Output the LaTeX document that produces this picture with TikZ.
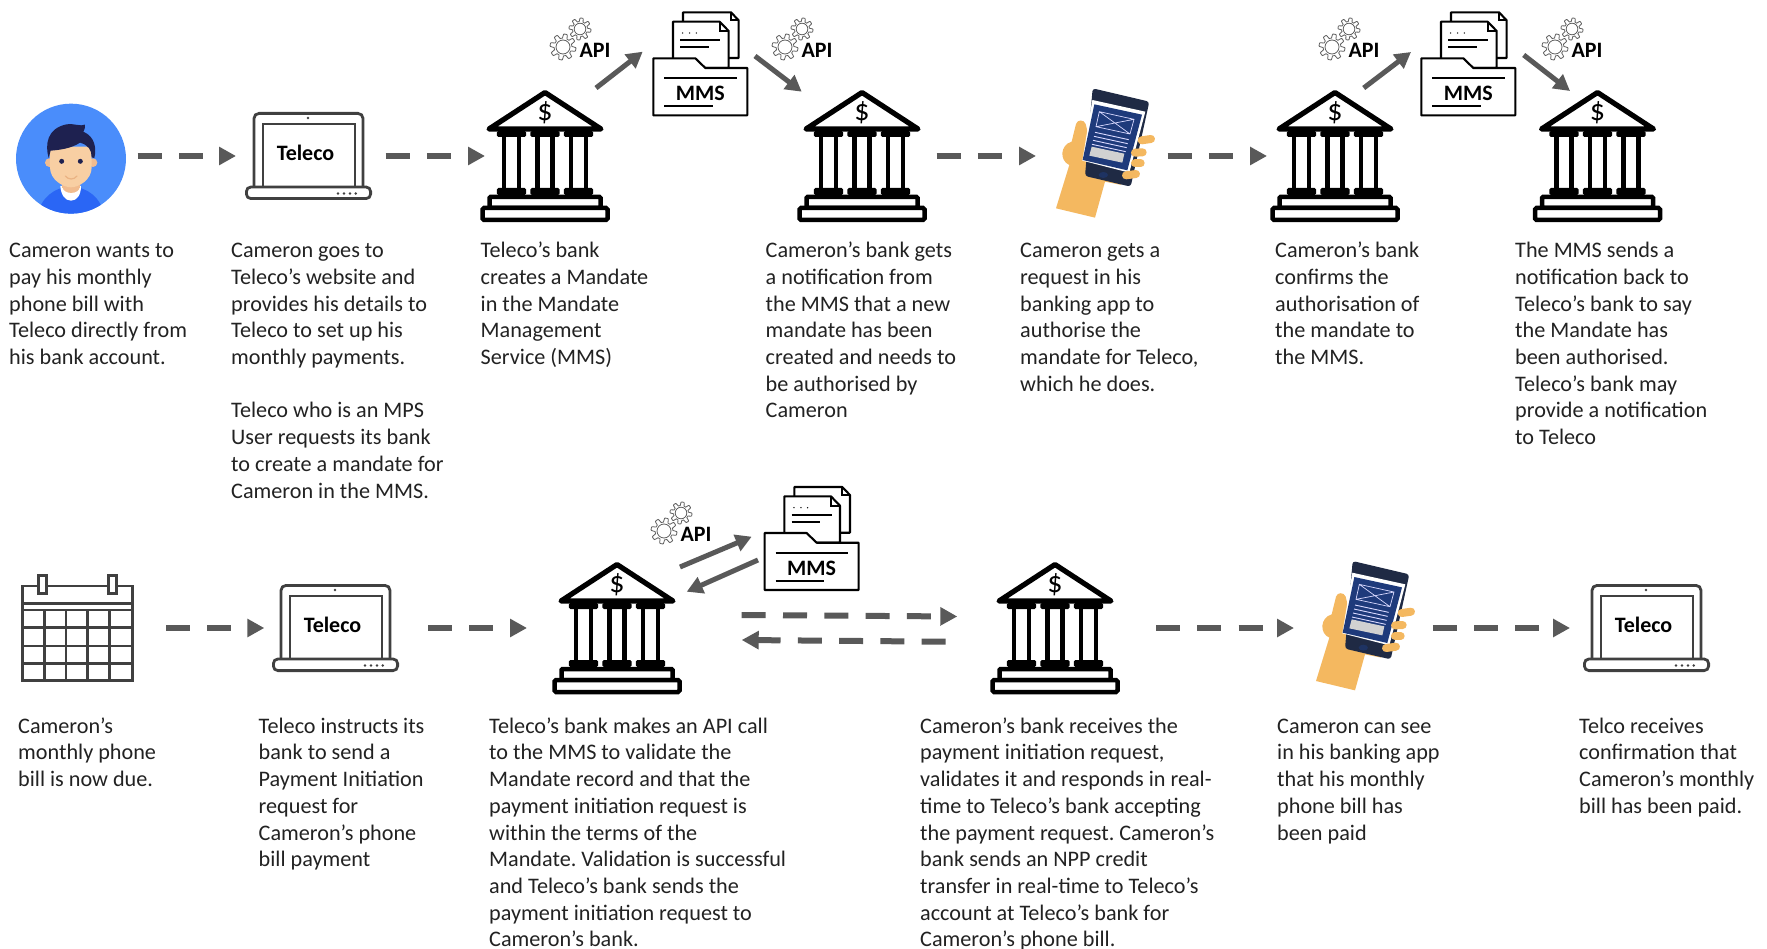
\documentclass[tikz,border=0pt]{standalone}
\usepackage{fontspec}
\setmainfont{Carlito}
\usetikzlibrary{arrows.meta}
\definecolor{arrowgrey}{HTML}{595959}
\definecolor{icongrey}{HTML}{404040}
\definecolor{gearedge}{HTML}{5F5F5F}
\definecolor{txt}{HTML}{222222}
\definecolor{skyblue}{HTML}{4A8DFB}
\definecolor{shirtblue}{HTML}{2A66F5}
\definecolor{skin}{HTML}{F8CFA3}
\definecolor{skindark}{HTML}{F1BC8F}
\definecolor{navy}{HTML}{1E2150}
\definecolor{handc}{HTML}{F4B860}
\definecolor{phonebody}{HTML}{1F2A44}
\definecolor{phonescreen}{HTML}{1E3A7B}
\tikzset{
  para/.style={anchor=north west,inner sep=0pt,align=left,text=txt,font=\frenchspacing\fontsize{22.2}{26.7}\selectfont},
  dasharr/.style={line width=6pt,draw=arrowgrey,dash pattern=on 24pt off 17.3pt,-{Triangle[length=17pt,width=17.5pt,fill=arrowgrey]}},
  solidarr/.style={line width=5pt,draw=arrowgrey,-{Triangle[length=16pt,width=17pt,fill=arrowgrey]}},
  iconlabel/.style={inner sep=0pt,text=black,font=\fontsize{22}{24}\selectfont\bfseries},
  bank/.pic={
    \draw[line width=5.2pt,line join=round,fill=white] (0,2.5)--(-56,39)--(56,39)--cycle;
    \node[inner sep=0pt,text=black,font=\fontsize{30}{30}\selectfont] (-sym) at (0,22.5) {\$};
    \foreach \cx in {-33.5,0,33.5}{
      \fill[rounded corners=1.5pt] (\cx-14.7,41) rectangle (\cx+14.7,47);
      \fill[rounded corners=1.5pt] (\cx-14.7,98) rectangle (\cx+14.7,105);
      \draw[line width=4.5pt] (\cx-7.5,46)--(\cx-7.5,99) (\cx+7.5,46)--(\cx+7.5,99);
    }
    \draw[line width=4.5pt,fill=white,rounded corners=1pt] (-55.5,107) rectangle (55.5,118);
    \draw[line width=4.5pt,fill=white,rounded corners=1.5pt] (-62.5,118) rectangle (62.5,130);
  },
  laptop/.pic={
    \draw[icongrey,line width=2.8pt,rounded corners=5pt] (9,75)--(9,1.4)--(118,1.4)--(118,75);
    \draw[icongrey,line width=2.8pt] (18,75)--(18,12)--(110,12)--(110,75);
    \draw[icongrey,line width=2.8pt,fill=white,rounded corners=4.5pt] (1.4,75)--(125.6,75)--(125.6,86.6)--(1.4,86.6)--cycle;
    \fill[icongrey] (63,6) circle (1.4);
    \foreach \dx in {93,99,105,110.7}{\fill[icongrey] (\dx,81.5) circle (1.3);}
    \node[iconlabel] (-lbl) at (60.5,40.5) {Teleco};
  },
  mms/.pic={
    \begin{scope}[x=.3333pt,y=-.3333pt,shift={(-548,-175)},line width=2.1pt]
      \draw[fill=white,line join=round] (638,38)--(782,38)--(805,62)--(805,175)--(638,175)--cycle;
      \draw (782,38)--(782,62)--(805,62);
      \draw[fill=white,line join=round] (608,66)--(748,66)--(775,94)--(775,205)--(608,205)--cycle;
      \draw (748,66)--(748,94)--(775,94);
      \fill (637,100) circle (2.2) (658,100) circle (2.2) (678,100) circle (2.2);
      \draw (630,121)--(750,121) (630,143)--(716,143);
      \draw[fill=white,line join=round] (549,176)--(675,176)--(705,205)--(831,205)--(831,347)--(549,347)--cycle;
      \draw (582,235)--(800,235) (582,320)--(728,320);
      \node[iconlabel] (-lbl) at (690,282) {MMS};
    \end{scope}
  },
  apigear/.pic={
    \draw[gearedge,line width=.8pt] plot[domain=0:360,samples=121] (\x:{13*(0.84+0.16*max(-1,min(1,2.2*sin(8*\x))))}) -- cycle;
    \draw[gearedge,line width=.8pt] (0,0) circle (7);
    \begin{scope}[shift={(17,-18)}]
      \draw[gearedge,line width=.8pt] plot[domain=0:360,samples=121] (\x:{11*(0.84+0.16*max(-1,min(1,2.2*sin(8*\x+20))))}) -- cycle;
      \draw[gearedge,line width=.8pt] (0,0) circle (5.8);
    \end{scope}
    \node[iconlabel] (-lbl) at (32,3) {API};
  },
  calendarpic/.pic={
    \begin{scope}[x=.3333pt,y=-.3333pt,line width=2.8pt]
      \draw[icongrey] (68,78) rectangle (397,362);
      \draw[icongrey,fill=white] (115,46) rectangle (139,100);
      \draw[icongrey,fill=white] (326,46) rectangle (350,100);
      \draw[icongrey] (68,130)--(397,130) (68,150)--(397,150);
      \draw[icongrey] (68,203)--(397,203) (68,258)--(397,258) (68,310)--(397,310);
      \draw[icongrey] (133,150)--(133,362) (198,150)--(198,362) (263,150)--(263,362) (328,150)--(328,362);
    \end{scope}
  },
  persona/.pic={
    \begin{scope}[x=.3333pt,y=-.3333pt]
      \fill[skyblue] (213,236) circle (165);
      \begin{scope}
        \clip (213,236) circle (165);
        \fill[shirtblue] (110,410)..controls (125,350) and (160,325) ..(213,318)..controls (266,325) and (300,350) ..(316,410)--cycle;
      \end{scope}
      \fill[white] (181,318)..controls (183,345) and (195,362) ..(213,362)..controls (231,362) and (243,345) ..(243,318)--cycle;
      \fill[skindark] (187,290) rectangle (240,325);
      \fill[skindark] (187,320)..controls (190,345) and (237,345) ..(240,320)--cycle;
      \fill[skindark] (148,248) circle (13);
      \fill[skindark] (279,248) circle (13);
      \fill[skin] (150,200)--(150,262)..controls (150,300) and (190,322) ..(213,322)..controls (236,322) and (275,300) ..(275,262)--(275,200)--cycle;
      \fill[navy] (146,234)..controls (135,195) and (140,145) ..(200,133)..controls (225,130) and (240,140) ..(255,134)..controls (256,145) and (252,152) ..(250,155)..controls (285,170) and (290,205) ..(283,234)--(275,232)..controls (275,210) and (265,195) ..(240,188)..controls (215,205) and (180,210) ..(152,212)--cycle;
      \fill[navy] (185,244) circle (7.5) (241,244) circle (7.5);
      \draw[skindark!85!brown,line width=1.2pt,line cap=round] (196,288)..controls (205,300) and (222,300) ..(231,288);
    \end{scope}
  },
  phone/.pic={
    \begin{scope}[x=.3333pt,y=-.3333pt]
      \fill[handc] (48,415)--(88,285)..controls (58,272) and (60,225) ..(95,215)--(108,162)..controls (112,148) and (132,148) ..(137,162)--(170,300)--(245,345)--(195,335)--(165,443)--cycle;
      \fill[phonebody,rounded corners=3pt] (158,55)--(328,95)--(272,350)--(135,318)--cycle;
      \fill[white] (157,90)--(316,125)--(268,308)--(127,272)--cycle;
      \fill[phonescreen] (163,103)--(306,134)--(262,301)--(128,270)--cycle;
      \draw[white!85!blue,line width=.7pt] (178,125)--(282,148)--(270,192)--(168,170)--cycle (178,125)--(270,192) (282,148)--(168,170);
      \draw[white!85!blue,line width=.9pt] (165,187)--(266,209) (162,199)--(263,221) (159,211)--(260,233) (156,223)--(257,245);
      \fill[black!18] (155,230)--(253,251)--(247,278)--(148,257)--cycle;
      \fill[phonescreen!55!phonebody] (190,315) ellipse (14 and 9);
      \draw[handc,line width=8pt,line cap=round] (305,211)--(333,207);
      \draw[handc,line width=8pt,line cap=round] (285,248)--(308,247);
      \draw[handc,line width=8pt,line cap=round] (285,280)--(302,280);
      \draw[handc,line width=8pt,line cap=round] (258,316)--(288,312);
    \end{scope}
  },
}
\begin{document}
\begin{tikzpicture}[x=1pt,y=-1pt]
\useasboundingbox[fill=white] (0,0) rectangle (1767,949);
% row 1 icons
\pic (cameron) at (0,80) {persona};
\pic (laptopA) at (245,112) {laptop};
\pic (bankA) at (545,90) {bank};
\pic (bankB) at (862,90) {bank};
\pic (phoneA) at (1040,70) {phone};
\pic (bankC) at (1335,90) {bank};
\pic (bankD) at (1597.5,90) {bank};
\pic (mmsA) at (653,58) {mms};
\pic (mmsB) at (1421,58) {mms};
\pic (apiA) at (563,47) {apigear};
\pic (apiB) at (785,47) {apigear};
\pic (apiC) at (1332,47) {apigear};
\pic (apiD) at (1555,47) {apigear};
% row 2 icons
\pic (calendar) at (0,560) {calendarpic};
\pic (laptopB) at (272,584) {laptop};
\pic (bankE) at (617,562) {bank};
\pic (bankF) at (1055,562) {bank};
\pic (phoneB) at (1300,542.7) {phone};
\pic (laptopC) at (1583,584) {laptop};
\pic (mmsC) at (764.3,532.7) {mms};
\pic (apiE) at (664,531) {apigear};
% connector ends
\coordinate (r1a) at (137.7,156); \coordinate (r1b) at (236,156);
\coordinate (r1c) at (385.5,156); \coordinate (r1d) at (485,156);
\coordinate (r1e) at (936.5,156); \coordinate (r1f) at (1036,156);
\coordinate (r1g) at (1167.5,156); \coordinate (r1h) at (1267,156);
\coordinate (m1a) at (596,88); \coordinate (m1b) at (642.7,51.7);
\coordinate (m2a) at (755,56); \coordinate (m2b) at (801.7,91.7);
\coordinate (m3a) at (1363.7,88); \coordinate (m3b) at (1411,52);
\coordinate (m4a) at (1523.7,55); \coordinate (m4b) at (1570,91);
\coordinate (r2a) at (166,628); \coordinate (r2b) at (264.3,628);
\coordinate (r2c) at (428,628); \coordinate (r2d) at (527,628);
\coordinate (r2e) at (741.7,615); \coordinate (r2f) at (957.3,616.5);
\coordinate (r2g) at (945.7,641.7); \coordinate (r2h) at (741.7,640);
\coordinate (r2i) at (1156,628); \coordinate (r2j) at (1294,628);
\coordinate (r2k) at (1432.8,628); \coordinate (r2l) at (1570,628);
\coordinate (m5a) at (680,567); \coordinate (m5b) at (751.7,536.7);
\coordinate (m6a) at (758,560); \coordinate (m6b) at (686.7,591.7);
% connectors
\foreach \p/\q in {r1a/r1b,r1c/r1d,r1e/r1f,r1g/r1h,r2a/r2b,r2c/r2d,r2e/r2f,r2g/r2h,r2i/r2j,r2k/r2l}
  \draw[dasharr] (\p) -- (\q);
\foreach \p/\q in {m1a/m1b,m2a/m2b,m3a/m3b,m4a/m4b,m5a/m5b,m6a/m6b}
  \draw[solidarr] (\p) -- (\q);
% texts row 1
\node[para] (t1) at (9,241.5) {\rule{0pt}{16pt}Cameron wants to\\pay his monthly\\phone bill with\\Teleco directly from\\his bank account.};
\node[para] (t2) at (231,241.5) {\rule{0pt}{16pt}Cameron goes to\\Teleco’s website and\\provides his details to\\Teleco to set up his\\monthly payments.\\[26.7pt]Teleco who is an MPS\\User requests its bank\\to create a mandate for\\Cameron in the MMS.};
\node[para] (t3) at (480.5,241.5) {\rule{0pt}{16pt}Teleco’s bank\\creates a Mandate\\in the Mandate\\Management\\Service (MMS)};
\node[para] (t4) at (765.5,241.5) {\rule{0pt}{16pt}Cameron’s bank gets\\a notification from\\the MMS that a new\\mandate has been\\created and needs to\\be authorised by\\Cameron};
\node[para] (t5) at (1020,241.5) {\rule{0pt}{16pt}Cameron gets a\\request in his\\banking app to\\authorise the\\mandate for Teleco,\\which he does.};
\node[para] (t6) at (1275,241.5) {\rule{0pt}{16pt}Cameron’s bank\\confirms the\\authorisation of\\the mandate to\\the MMS.};
\node[para] (t7) at (1515,241.5) {\rule{0pt}{16pt}The MMS sends a\\notification back to\\Teleco’s bank to say\\the Mandate has\\been authorised.\\Teleco’s bank may\\provide a notification\\to Teleco};
% texts row 2
\node[para] (u1) at (18,717) {\rule{0pt}{16pt}Cameron’s\\monthly phone\\bill is now due.};
\node[para] (u2) at (258.5,717) {\rule{0pt}{16pt}Teleco instructs its\\bank to send a\\Payment Initiation\\request for\\Cameron’s phone\\bill payment};
\node[para] (u3) at (489,717) {\rule{0pt}{16pt}Teleco’s bank makes an API call\\to the MMS to validate the\\Mandate record and that the\\payment initiation request is\\within the terms of the\\Mandate. Validation is successful\\and Teleco’s bank sends the\\payment initiation request to\\Cameron’s bank.};
\node[para] (u4) at (920,717) {\rule{0pt}{16pt}Cameron’s bank receives the\\payment initiation request,\\validates it and responds in real-\\time to Teleco’s bank accepting\\the payment request. Cameron’s\\bank sends an NPP credit\\transfer in real-time to Teleco’s\\account at Teleco’s bank for\\Cameron’s phone bill.};
\node[para] (u5) at (1277,717) {\rule{0pt}{16pt}Cameron can see\\in his banking app\\that his monthly\\phone bill has\\been paid};
\node[para] (u6) at (1579,717) {\rule{0pt}{16pt}Telco receives\\confirmation that\\Cameron’s monthly\\bill has been paid.};
\end{tikzpicture}
\end{document}
